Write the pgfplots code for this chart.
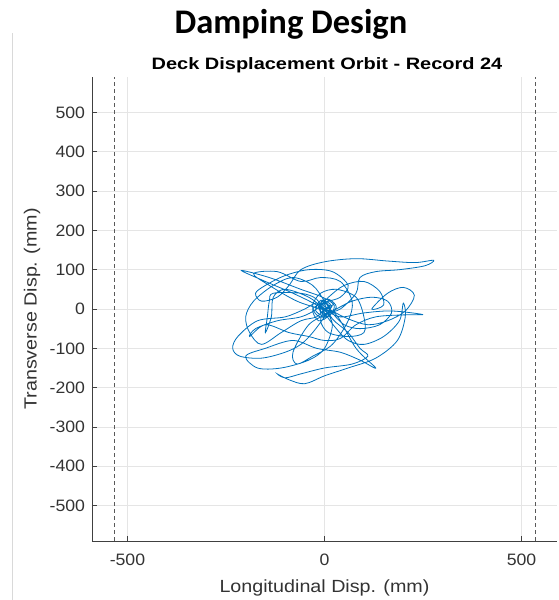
\documentclass[border=0pt]{standalone}
\usepackage{fontspec}
\setmainfont{Liberation Sans}
\newfontfamily\titlefont{Carlito}
\newfontfamily\mfont[FakeStretch=1.07]{Liberation Sans}
\newfontfamily\lfont[FakeStretch=1.12]{Liberation Sans}
\newfontfamily\subfont[FakeStretch=1.21]{Liberation Sans}
\usepackage{pgfplots}
\pgfplotsset{compat=1.18}
\definecolor{mblue}{rgb}{0.0,0.447,0.741}
\begin{document}
\begin{tikzpicture}[x=1pt,y=1pt]
\path[use as bounding box] (0,0) rectangle (558,600);
\draw[black!15, line width=0.8pt] (12,0) -- (12,567);
\node[font=\titlefont\bfseries\fontsize{34.5}{40}\selectfont, anchor=base, inner sep=0pt] at (291,566) {Damping Design};
\node[font=\subfont\bfseries\fontsize{16.5}{20}\selectfont, anchor=base, inner sep=0pt] at (327,530) {Deck Displacement Orbit - Record 24};
\begin{axis}[
  at={(92pt,59pt)}, anchor=south west,
  width=465pt, height=464pt, scale only axis,
  xmin=-590, xmax=590, ymin=-590, ymax=590,
  axis x line*=bottom, axis y line*=left,
  axis line style={black!75, line width=0.7pt},
  xtick={-500,0,500}, xticklabels={-500,0,500},
  ytick={-500,-400,-300,-200,-100,0,100,200,300,400,500},
  yticklabels={-500,-400,-300,-200,-100,0,100,200,300,400,500},
  tick align=inside, major tick length=5pt,
  tick style={black!75, line width=0.6pt},
  grid=major, grid style={black!10, line width=0.6pt},
  ticklabel style={font=\mfont\fontsize{16.5}{19}\selectfont, text=black!80},
  yticklabel style={xshift=-3.5pt},
  xticklabel style={yshift=-9pt},
  xlabel={Longitudinal Disp. (mm)},
  ylabel={Transverse Disp. (mm)},
  label style={font=\lfont\fontsize{17.6}{20}\selectfont, text=black!80},
  xlabel style={at={(axis description cs:0.5,0)}, anchor=base, yshift=-52pt},
  ylabel style={at={(axis description cs:0,0.5)}, anchor=center, yshift=60pt},
]
\addplot[black!65, line width=0.8pt, dash pattern=on 4pt off 3pt] coordinates {(-533,-590) (-533,590)};
\addplot[black!65, line width=0.8pt, dash pattern=on 4pt off 3pt] coordinates {(535,-590) (535,590)};
\addplot[mblue, line width=0.8pt, smooth, tension=0.55] coordinates {
(0,0) (15,12) (-10,22) (-22,-5) (8,-20) (25,8) (-5,30) (-60,50) (-140,80) (-211,98)
(-150,70) (-80,40) (-20,10) (10,-15) (-15,-30) (-30,0) (5,18) (40,30) (60,60) (20,95)
(-40,100) (-100,85) (-150,60) (-175,40) (-160,20) (-120,30) (-90,60) (-60,100) (0,120) (80,128)
(160,122) (230,118) (277,124) (255,110) (190,100) (130,95) (90,80) (80,40) (40,0) (10,-5)
(-20,15) (-50,0) (-100,-20) (-170,-30) (-220,-70) (-233,-100) (-215,-120) (-160,-125) (-100,-110) (-60,-90)
(-30,-60) (0,-20) (20,10) (-10,-10) (-5,20) (20,-25) (60,-60) (90,-100) (110,-120) (70,-140)
(0,-150) (-60,-165) (-100,-175) (-120,-165) (-90,-180) (-50,-190) (0,-170) (60,-150) (130,-125) (185,-80)
(205,-20) (200,15) (190,-30) (150,-70) (100,-90) (60,-80) (30,-50) (0,-10) (-20,25) (-60,40)
(-130,40) (-140,20) (-145,-20) (-150,-60) (-135,-20) (-130,30) (-100,50) (-40,30) (0,0) (40,-20)
(100,-10) (170,-5) (249,-14) (200,-15) (130,-20) (80,-40) (40,-75) (0,-80) (-40,-70) (-90,-60)
(-150,-40) (-190,-70) (-175,-50) (-120,-30) (-60,-20) (-20,0) (10,30) (50,60) (100,70) (140,45)
(150,10) (120,0) (160,40) (200,55) (228,35) (205,-5) (160,-30) (110,-40) (60,-25) (20,-5)
(-10,15) (10,25) (30,5) (5,-20) (-20,-15) (-30,10) (-10,40) (30,50) (80,30) (100,-20)
(100,-60) (60,-70) (10,-60) (-10,-30) (0,0)
(-20,-20) (-60,-30) (-110,-60) (-160,-90) (-190,-60) (-200,-20) (-180,20) (-130,60) (-80,80) (-30,60)
(0,20) (20,-10) (50,-40) (90,-50) (140,-40) (170,-10) (160,20) (120,30) (70,20) (30,0)
(0,-15) (-15,5) (5,15) (15,-5) (-5,-12) (-12,8) (8,12) (12,-8) (-40,-40) (-80,-110)
(-70,-140) (-30,-120) (20,-90) (60,-30) (70,20) (40,70) (-10,80) (-60,70) (-120,95) (-180,90)
(-140,60) (-70,20) (-10,0) (30,-15) (80,-100) (130,-150) (90,-130) (40,-110) (-20,-100) (-80,-80)
(-150,-100) (-200,-120) (-170,-150) (-110,-150) (-40,-130) (0,-100) (20,-40) (0,0)
};
\end{axis}
\end{tikzpicture}
\end{document}
